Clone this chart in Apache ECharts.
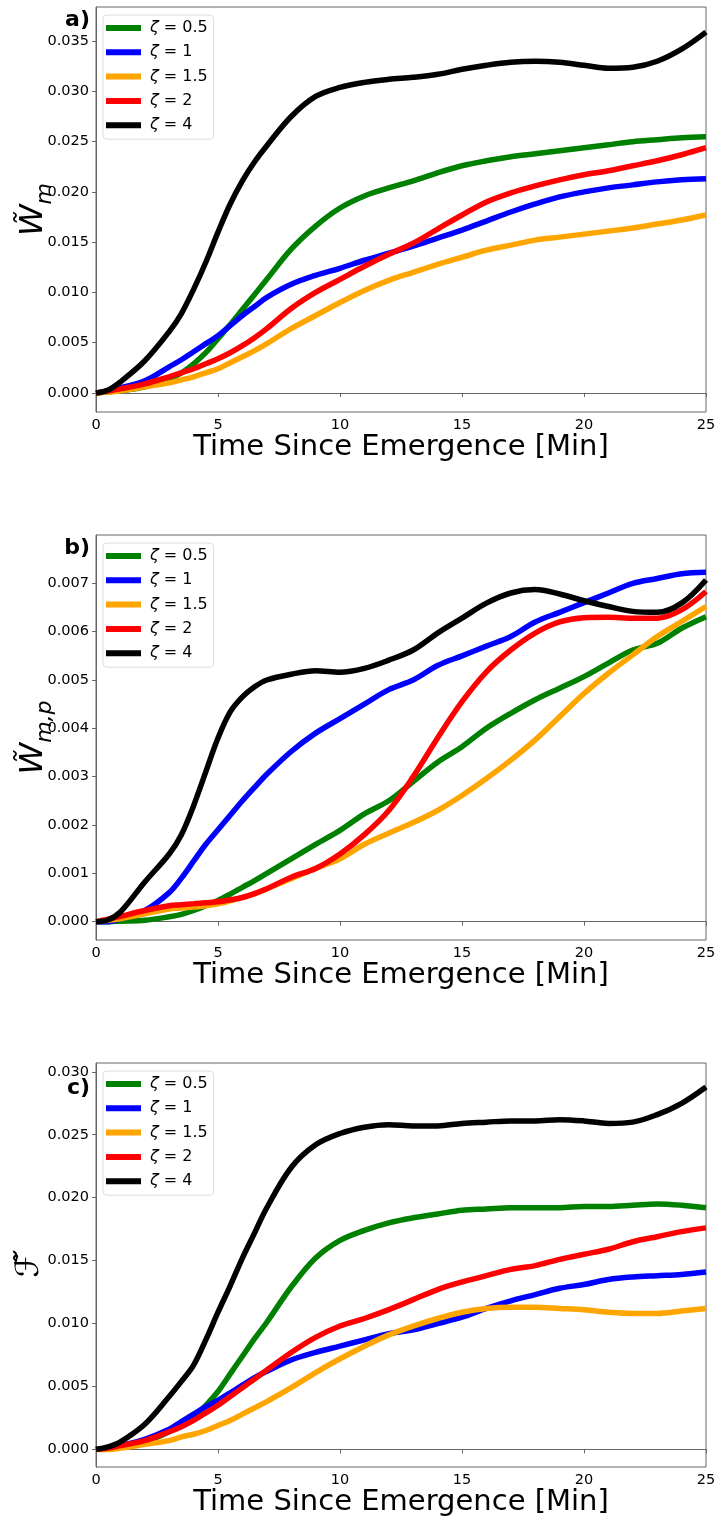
<!DOCTYPE html>
<html>
<head>
<meta charset="utf-8">
<script src="https://cdn.jsdelivr.net/npm/echarts@6/dist/echarts.min.js"></script>
<style>
html,body{margin:0;padding:0;background:#fff;}
#chart{width:716px;height:1521px;}
</style>
</head>
<body>
<div id="chart"></div>
<script>
const time = [0,0.5,1,2,3,3.5,4,4.5,5,5.5,6,6.5,7,8,9,10,11,12,13,14,15,16,17,18,19,20,21,22,23,24,25];
const seriesNames = ['ζ = 0.5','ζ = 1','ζ = 1.5','ζ = 2','ζ = 4'];
const seriesColors = ['#008000','#0000ff','#ffa500','#ff0000','#000000'];
const xTicks = [0,5,10,15,20,25];

// Panel a) W_m
const a_z05 = [0,0.0001,0.0002,0.0006,0.0014,0.002,0.0029,0.004,0.0054,0.0068,0.0083,0.0098,0.0113,0.0143,0.0166,0.0184,0.0196,0.0204,0.0211,0.0219,0.0226,0.0231,0.0235,0.0238,0.0241,0.0244,0.0247,0.025,0.0252,0.0254,0.0255];
const a_z1  = [0,0.0002,0.0005,0.0012,0.0026,0.0033,0.0041,0.0049,0.0057,0.0067,0.0077,0.0086,0.0095,0.0108,0.0117,0.0124,0.0132,0.0139,0.0146,0.0154,0.0162,0.0171,0.018,0.0188,0.0195,0.02,0.0204,0.0207,0.021,0.0212,0.0213];
const a_z15 = [0,0.0001,0.0002,0.0006,0.001,0.0013,0.0016,0.002,0.0024,0.003,0.0036,0.0042,0.0049,0.0064,0.0077,0.009,0.0102,0.0112,0.012,0.0128,0.0135,0.0142,0.0147,0.0152,0.0155,0.0158,0.0161,0.0164,0.0168,0.0172,0.0177];
const a_z2  = [0,0.0002,0.0004,0.0009,0.0016,0.002,0.0024,0.0029,0.0034,0.004,0.0047,0.0055,0.0064,0.0084,0.01,0.0113,0.0126,0.0138,0.0149,0.0163,0.0177,0.019,0.0199,0.0206,0.0212,0.0217,0.0221,0.0226,0.0231,0.0237,0.0244];
const a_z4  = [0,0.0003,0.0011,0.0032,0.0061,0.0079,0.0103,0.013,0.016,0.0188,0.0211,0.023,0.0246,0.0275,0.0295,0.0304,0.0309,0.0312,0.0314,0.0317,0.0322,0.0326,0.0329,0.033,0.0329,0.0326,0.0323,0.0324,0.033,0.0342,0.0359];

// Panel b) W_{m,p}
const b_z05 = [0,0,0.00001,0.00003,0.0001,0.00015,0.00023,0.00033,0.00044,0.00057,0.00071,0.00085,0.001,0.0013,0.0016,0.00189,0.00223,0.0025,0.0029,0.0033,0.00362,0.004,0.00431,0.00459,0.00483,0.00507,0.00535,0.00562,0.00576,0.00607,0.00631];
const b_z1  = [0,0,0.00006,0.00023,0.0006,0.0009,0.00125,0.0016,0.0019,0.0022,0.0025,0.00278,0.00305,0.00352,0.0039,0.0042,0.0045,0.0048,0.005,0.0053,0.0055,0.0057,0.0059,0.0062,0.0064,0.0066,0.0068,0.007,0.0071,0.0072,0.00723];
const b_z15 = [0,0.00003,0.00006,0.00016,0.00026,0.00028,0.0003,0.00033,0.00037,0.00043,0.0005,0.00058,0.00068,0.00089,0.0011,0.0013,0.0016,0.00183,0.00205,0.0023,0.00261,0.00296,0.00334,0.00376,0.00424,0.00472,0.00514,0.00552,0.0059,0.00621,0.00652];
const b_z2  = [0,0.00005,0.00011,0.00023,0.00033,0.00035,0.00037,0.00039,0.00041,0.00045,0.0005,0.00058,0.00068,0.00092,0.0011,0.0014,0.0018,0.0023,0.003,0.0038,0.00455,0.00517,0.00562,0.00597,0.0062,0.00629,0.0063,0.00628,0.00628,0.00645,0.00683];
const b_z4  = [0,0.00004,0.0002,0.00082,0.0014,0.0018,0.0024,0.0031,0.0038,0.00434,0.00465,0.00486,0.005,0.00512,0.00519,0.00516,0.00524,0.00541,0.00562,0.00597,0.00628,0.00659,0.0068,0.00687,0.00678,0.00664,0.00652,0.00642,0.0064,0.00659,0.00707];

// Panel c) F
const c_z05 = [0,0.0001,0.0002,0.0006,0.0014,0.002,0.0026,0.0035,0.0046,0.006,0.0074,0.0088,0.0101,0.0129,0.0152,0.0166,0.0174,0.018,0.0184,0.0187,0.019,0.0191,0.0192,0.0192,0.0192,0.0193,0.0193,0.0194,0.0195,0.0194,0.0192];
const c_z1  = [0,0.0001,0.0003,0.0008,0.0016,0.0022,0.0028,0.0034,0.0039,0.0045,0.0051,0.0057,0.0062,0.0071,0.0077,0.0082,0.0087,0.0092,0.0095,0.01,0.0105,0.0112,0.0118,0.0123,0.0128,0.0131,0.0135,0.0137,0.0138,0.0139,0.0141];
const c_z15 = [0,0,0.0001,0.0004,0.0007,0.001,0.0012,0.0015,0.0019,0.0023,0.0028,0.0033,0.0038,0.0049,0.0061,0.0072,0.0082,0.0091,0.0098,0.0104,0.0109,0.0112,0.0113,0.0113,0.0112,0.0111,0.0109,0.0108,0.0108,0.011,0.0112];
const c_z2  = [0,0.0001,0.0003,0.0007,0.0014,0.0018,0.0023,0.0029,0.0035,0.0042,0.0049,0.0056,0.0063,0.0077,0.0089,0.0098,0.0104,0.0111,0.0119,0.0127,0.0133,0.0138,0.0143,0.0146,0.0151,0.0155,0.0159,0.0165,0.0169,0.0173,0.0176];
const c_z4  = [0,0.0002,0.0006,0.002,0.0042,0.0054,0.0067,0.0087,0.0109,0.013,0.0152,0.0172,0.0192,0.0224,0.0242,0.0251,0.0256,0.0258,0.0257,0.0257,0.0259,0.026,0.0261,0.0261,0.0262,0.0261,0.0259,0.026,0.0266,0.0275,0.0288];

const panels = [
  {label:'a)', values:[a_z05,a_z1,a_z15,a_z2,a_z4], min:-0.0019, max:0.0384, split:8,
   name:'{w|W̃}{s|m}', top:7, height:405, nameGap:40, labelY:20},
  {label:'b)', values:[b_z05,b_z1,b_z15,b_z2,b_z4], min:-0.00038, max:0.0080, split:8,
   name:'{w|W̃}{s|m,p}', top:535, height:405, nameGap:40, labelY:548},
  {label:'c)', values:[c_z05,c_z1,c_z15,c_z2,c_z4], min:-0.0014, max:0.0307, split:6,
   name:'{w|ℱ̃}', top:1063, height:404, nameGap:44, labelY:1088}
];

const FONT = 'DejaVu Sans';
const grids=[], xAxes=[], yAxes=[], series=[], legends=[], graphics=[];
panels.forEach((p,gi)=>{
  grids.push({left:96, top:p.top, width:610, height:p.height, show:true, borderColor:'#666', borderWidth:1,
    backgroundColor:'transparent', containLabel:false, outerBoundsMode:'none'});
  xAxes.push({type:'value', gridIndex:gi, min:0, max:25, interval:5,
    name:'Time Since Emergence [Min]', nameLocation:'middle', nameGap:21, nameMoveOverlap:false,
    nameTextStyle:{fontFamily:FONT, fontSize:29, color:'#000', verticalAlign:'top'},
    axisLine:{lineStyle:{color:'#666', width:1}},
    axisTick:{show:true, length:4, lineStyle:{color:'#666'}},
    axisLabel:{fontFamily:FONT, fontSize:14.5, color:'#000', margin:6},
    splitLine:{show:false}});
  yAxes.push({type:'value', gridIndex:gi, min:p.min, max:p.max, splitNumber:p.split,
    name:p.name, nameLocation:'middle', nameRotate:90, nameGap:p.nameGap, nameMoveOverlap:false,
    nameTextStyle:{fontFamily:FONT, color:'#000', rich:{
      w:{fontFamily:FONT, fontSize:32, fontStyle:'italic', lineHeight:44, verticalAlign:'middle'},
      s:{fontFamily:FONT, fontSize:22, fontStyle:'italic', lineHeight:22, verticalAlign:'bottom'}}},
    axisLine:{show:true, lineStyle:{color:'#666', width:1}},
    axisTick:{show:true, length:4, lineStyle:{color:'#666'}},
    axisLabel:{fontFamily:FONT, fontSize:14.5, color:'#000', margin:7, showMinLabel:false, showMaxLabel:false,
      formatter:v=>v.toFixed(3)},
    splitLine:{show:false}});
  p.values.forEach((vals,si)=>{
    series.push({type:'line', name:seriesNames[si], xAxisIndex:gi, yAxisIndex:gi,
      data:time.map((t,i)=>[t, vals[i]]), showSymbol:false, smooth:0.35,
      lineStyle:{width:5.5, color:seriesColors[si]}, itemStyle:{color:seriesColors[si]},
      emphasis:{disabled:true}, z:2+si});
  });
  legends.push({orient:'vertical', left:103, top:p.top+8, icon:'rect', itemWidth:35, itemHeight:6,
    itemGap:6.3, padding:[4,6,5,3], backgroundColor:'rgba(255,255,255,0.8)', borderColor:'#ddd', borderWidth:1, borderRadius:4,
    data:seriesNames.map((n,i)=>({name:n, itemStyle:{color:seriesColors[i]}})),
    formatter:n=>'{i|ζ}'+n.slice(1),
    textStyle:{fontFamily:FONT, fontSize:16, color:'#000', lineHeight:18, padding:[0,0,0,4],
      rich:{i:{fontFamily:FONT, fontSize:16, fontStyle:'italic', color:'#000'}}}});
  graphics.push({type:'text', x:90, y:p.labelY, style:{text:p.label, font:'bold 22px "DejaVu Sans"', fill:'#000', textAlign:'right', textVerticalAlign:'middle'}});
});

const chart = echarts.init(document.getElementById('chart'), null, {renderer:'canvas'});
chart.setOption({
  animation:false, backgroundColor:'#fff',
  grid:grids, xAxis:xAxes, yAxis:yAxes, series:series, legend:legends, graphic:graphics
});
</script>
</body>
</html>
